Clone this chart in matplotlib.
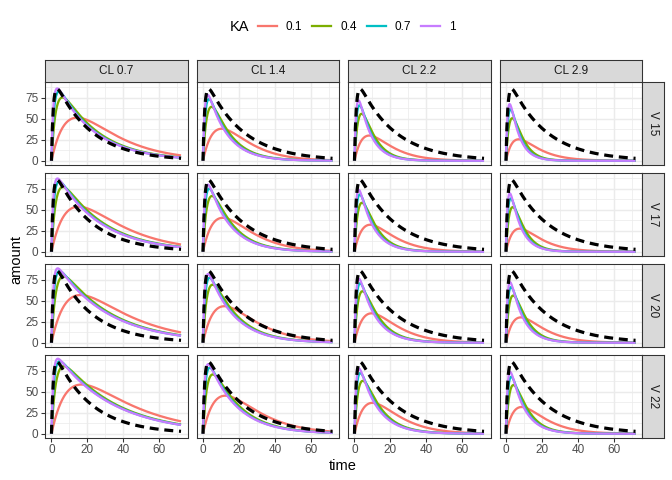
import numpy as np
import matplotlib
matplotlib.use("Agg")
import matplotlib.pyplot as plt
from matplotlib.lines import Line2D

plt.rcParams['font.family'] = ['Liberation Sans', 'DejaVu Sans']

# ---- data (one-compartment oral absorption simulation, dose 100) ----
DOSE = 100.0
CL_values = [0.7, 1.4, 2.2, 2.9]
V_values = [15, 17, 20, 22]
KA_values = [0.1, 0.4, 0.7, 1]
KA_labels = ["0.1", "0.4", "0.7", "1"]
REF_CL, REF_V, REF_KA = 1.0, 20.0, 1.0   # dashed reference profile
time = np.arange(0, 72.01, 0.25)
x_ticks = [0, 20, 40, 60]
y_ticks = [0, 25, 50, 75]

KA_colors = ['#F8766D', '#7CAE00', '#00BFC4', '#C77CFF']


def amount(t, cl, v, ka):
    ke = cl / v
    if abs(ka - ke) < 1e-9:
        return DOSE * ka * t * np.exp(-ka * t)
    return DOSE * ka / (ka - ke) * (np.exp(-ke * t) - np.exp(-ka * t))


ref_curve = amount(time, REF_CL, REF_V, REF_KA)
all_max = max(ref_curve.max(), max(amount(time, c, v, k).max()
                                   for c in CL_values for v in V_values for k in KA_values))
ymin, ymax = 0.0, all_max
yexp = (ymax - ymin) * 0.05
xexp = (time.max() - time.min()) * 0.05

W, H = 672, 480
fig = plt.figure(figsize=(W / 96, H / 96), dpi=96)

col_x = [45, 196.5, 348, 499.5]
pw = 142.5
row_top = [82, 173, 264, 355]
ph = 82.5
strip = 22

border_col = '#333333'


def fx(px):
    return px / W


def fy(top, h):
    return 1 - (top + h) / H


for i, v in enumerate(V_values):
    for j, cl in enumerate(CL_values):
        ax = fig.add_axes([fx(col_x[j]), fy(row_top[i], ph), pw / W, ph / H])
        ax.set_facecolor('white')
        ax.set_xlim(time.min() - xexp, time.max() + xexp)
        ax.set_ylim(ymin - yexp, ymax + yexp)
        ax.set_xticks(x_ticks)
        ax.set_yticks(y_ticks)
        ax.set_xticks([10, 30, 50, 70], minor=True)
        ax.set_yticks([12.5, 37.5, 62.5, 87.5], minor=True)
        ax.grid(True, which='major', color='#EBEBEB', lw=1.1)
        ax.grid(True, which='minor', color='#EBEBEB', lw=0.55)
        ax.set_axisbelow(True)
        for s in ax.spines.values():
            s.set_color(border_col)
            s.set_linewidth(0.8)
        ax.tick_params(which='minor', length=0)
        ax.tick_params(which='major', length=2.75, width=0.8, color=border_col,
                       labelsize=8.8, labelcolor='#4D4D4D', pad=2.2)
        if j != 0:
            ax.tick_params(axis='y', left=False, labelleft=False)
        if i != len(V_values) - 1:
            ax.tick_params(axis='x', bottom=False, labelbottom=False)

        for k, ka in enumerate(KA_values):
            ax.plot(time, amount(time, cl, v, ka), color=KA_colors[k], lw=1.7,
                    solid_capstyle='butt', zorder=3 + k)
        ax.plot(time, ref_curve, color='black', lw=2.4, dashes=(2.8, 1.8),
                dash_capstyle='butt', zorder=10)

        # top strips
        if i == 0:
            sa = fig.add_axes([fx(col_x[j]), fy(row_top[0] - strip, strip), pw / W, strip / H])
            sa.set_facecolor('#D9D9D9')
            sa.set_xticks([]); sa.set_yticks([])
            for s in sa.spines.values():
                s.set_color(border_col); s.set_linewidth(0.8)
            sa.text(0.5, 0.5, f"CL {cl}", ha='center', va='center', fontsize=8.8,
                    color='#1A1A1A', transform=sa.transAxes)
        # right strips
        if j == len(CL_values) - 1:
            sa = fig.add_axes([fx(col_x[j] + pw), fy(row_top[i], ph), strip / W, ph / H])
            sa.set_facecolor('#D9D9D9')
            sa.set_xticks([]); sa.set_yticks([])
            for s in sa.spines.values():
                s.set_color(border_col); s.set_linewidth(0.8)
            sa.text(0.5, 0.5, f"V {v}", ha='center', va='center', fontsize=8.8,
                    color='#1A1A1A', rotation=-90, transform=sa.transAxes)

# axis titles
fig.text(fx(343), 1 - 466 / H, "time", ha='center', va='center', fontsize=11)
fig.text(fx(16), 1 - 260 / H, "amount", ha='center', va='center', fontsize=11, rotation=90)

# legend
fig.text(fx(230), 1 - 27 / H, "KA", ha='left', va='center', fontsize=11)
handles = [Line2D([], [], color=c, lw=1.7) for c in KA_colors]
fig.legend(handles, KA_labels, loc='center left', bbox_to_anchor=(fx(258), 1 - 27 / H),
           ncol=4, frameon=False, fontsize=8.8, handlelength=1.62, handletextpad=0.75,
           columnspacing=0.85, borderpad=0, borderaxespad=0)

fig.savefig("out.png", dpi=96, facecolor='white')
